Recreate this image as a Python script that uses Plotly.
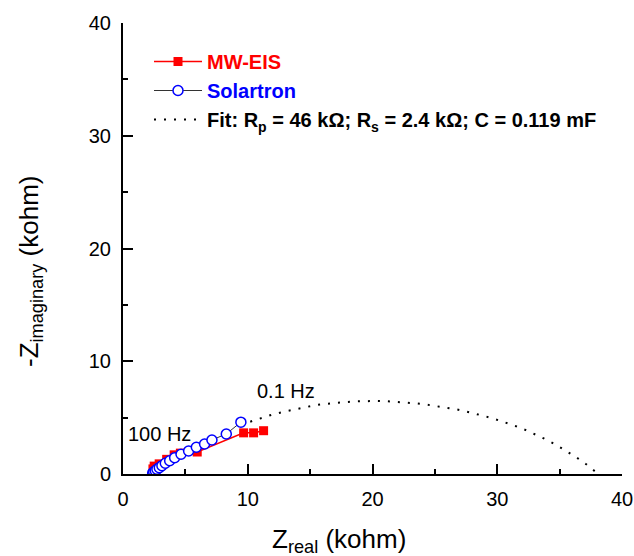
import plotly.graph_objects as go

# MW-EIS data (kohm)
mw_real = [2.40, 2.50, 2.90, 3.50, 4.10, 4.60, 5.95, 9.67, 10.47, 11.27]
mw_imag = [0.45, 0.70, 0.90, 1.30, 1.70, 1.85, 1.95, 3.65, 3.65, 3.84]

# Solartron data (kohm)
sol_real = [2.38, 2.46, 2.59, 2.72, 2.91, 3.12, 3.39, 3.74, 4.14, 4.65, 5.26, 5.88, 6.54, 7.13, 8.28, 9.45]
sol_imag = [0.09, 0.18, 0.29, 0.42, 0.56, 0.74, 0.95, 1.18, 1.45, 1.75, 2.04, 2.37, 2.66, 3.02, 3.55, 4.60]

# Fit curve (kohm)
fit_real = [10.2, 11.0, 12.0, 12.9, 13.8, 14.6, 15.4, 16.2, 17.0, 17.8, 18.7, 19.5, 20.3, 21.1,
            21.9, 22.7, 23.5, 24.3, 25.1, 25.9, 26.7, 27.5, 28.3, 29.1, 29.9, 30.7, 31.5, 32.3,
            33.1, 33.9, 34.7, 35.5, 36.3, 37.1, 37.9, 38.1]
fit_imag = [4.64, 4.94, 5.28, 5.53, 5.76, 5.95, 6.10, 6.21, 6.31, 6.38, 6.44, 6.47, 6.48, 6.46,
            6.41, 6.34, 6.26, 6.16, 6.04, 5.90, 5.74, 5.55, 5.34, 5.10, 4.84, 4.56, 4.24, 3.89,
            3.50, 3.07, 2.60, 2.08, 1.51, 0.89, 0.22, 0.0]

FONT = "Liberation Sans, Arial, sans-serif"
W, H = 634, 556
L, R, T, B = 123, 12, 23, 82
PW, PH = W - L - R, H - T - B

fig = go.Figure()
fig.add_trace(go.Scatter(
    x=mw_real, y=mw_imag, mode="lines+markers",
    name="<b><span style='color:#ff0000'>MW-EIS</span></b>",
    line=dict(color="#ff0000", width=1.5),
    marker=dict(symbol="square", size=9, color="#ff0000"),
))
fig.add_trace(go.Scatter(
    x=sol_real, y=sol_imag, mode="lines+markers",
    name="<b><span style='color:#0000ff'>Solartron</span></b>",
    line=dict(color="#333333", width=1),
    marker=dict(symbol="circle", size=10, color="white", line=dict(color="#0000ff", width=1.5)),
))
fig.add_trace(go.Scatter(
    x=fit_real, y=fit_imag, mode="lines",
    name="<b>Fit: R<sub>p</sub> = 46 kΩ; R<sub>s</sub> = 2.4 kΩ; C = 0.119 mF</b>",
    line=dict(color="black", width=2, dash="2px,8px"),
))

axis_common = dict(
    range=[0, 40], dtick=10, showline=True, linecolor="black", linewidth=2,
    ticks="inside", ticklen=10, tickwidth=1.5, tickcolor="black",
    minor=dict(dtick=5, ticks="inside", ticklen=5, tickwidth=1.5, tickcolor="black"),
    showgrid=False, zeroline=False, mirror=False, automargin=False,
    tickfont=dict(family=FONT, size=20, color="black"),
    ticklabelstandoff=6,
)

fig.update_layout(
    width=W, height=H,
    margin=dict(l=L, r=R, t=T, b=B, autoexpand=False),
    paper_bgcolor="white", plot_bgcolor="white",
    font=dict(family=FONT, color="black"),
    xaxis=dict(**axis_common),
    yaxis=dict(**axis_common),
    showlegend=True,
    legend=dict(xref="container", yref="container",
                x=149 / W, y=1 - 42 / H, xanchor="left", yanchor="top",
                bgcolor="rgba(0,0,0,0)", font=dict(family=FONT, size=20, color="black"),
                itemwidth=48),
    annotations=[
        dict(text="Z<sub>real</sub> (kohm)", xref="paper", yref="paper",
             x=(339 - L) / PW, y=(H - B - 540) / PH, xanchor="center", yanchor="middle",
             showarrow=False, font=dict(family=FONT, size=26, color="black")),
        dict(text="-Z<sub>imaginary</sub> (kohm)", xref="paper", yref="paper",
             x=(30 - L) / PW, y=(H - B - 271) / PH, xanchor="center", yanchor="middle",
             textangle=-90, showarrow=False, font=dict(family=FONT, size=26, color="black")),
        dict(text="100 Hz", xref="paper", yref="paper",
             x=(159 - L) / PW, y=(H - B - 434) / PH, xanchor="center", yanchor="middle",
             showarrow=False, font=dict(family=FONT, size=20, color="black")),
        dict(text="0.1 Hz", xref="paper", yref="paper",
             x=(286 - L) / PW, y=(H - B - 391) / PH, xanchor="center", yanchor="middle",
             showarrow=False, font=dict(family=FONT, size=20, color="black")),
    ],
)

fig.write_html("out.html", config={"displayModeBar": False},
               post_script="document.body.style.margin='0';document.body.style.overflow='hidden';")
